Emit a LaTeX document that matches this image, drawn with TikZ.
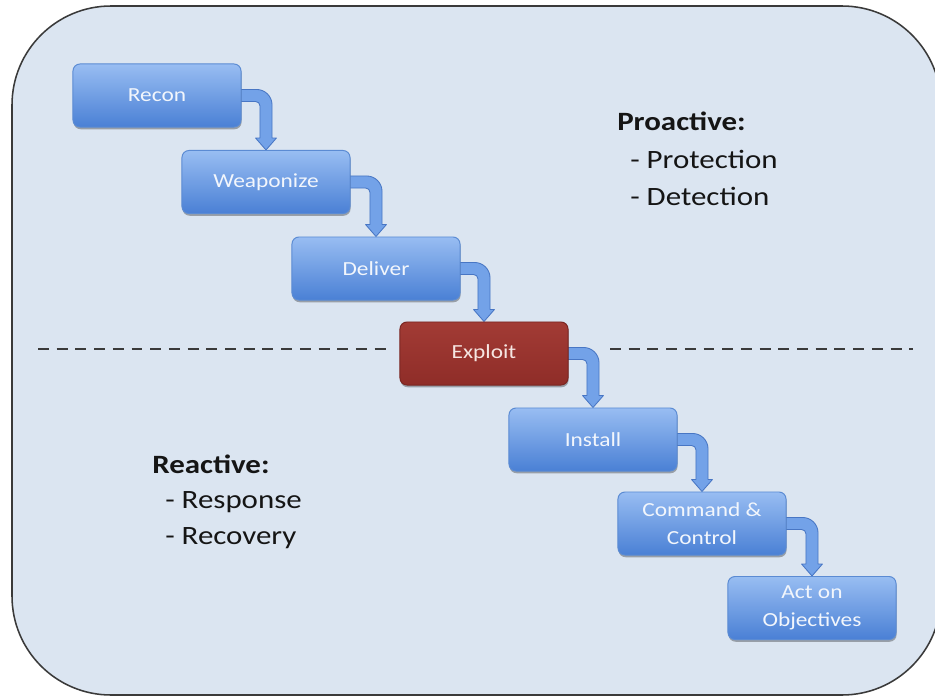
\documentclass[tikz,border=0pt]{standalone}
\usepackage{fontspec}
\setmainfont{Carlito}[FakeStretch=1.17]
\usetikzlibrary{calc,shadows}

\definecolor{panelfill}{HTML}{DBE5F1}
\definecolor{paneledge}{HTML}{3A3A3A}
\definecolor{steptop}{HTML}{98BDF2}
\definecolor{stepbottom}{HTML}{4A80D5}
\definecolor{stepedge}{HTML}{5B8BD3}
\definecolor{steptext}{HTML}{F2F6FC}
\definecolor{hottop}{HTML}{A23B35}
\definecolor{hotbottom}{HTML}{8F2D28}
\definecolor{hotedge}{HTML}{7A2622}
\definecolor{hottext}{HTML}{F6E6E2}
\definecolor{flowfill}{HTML}{73A2E8}
\definecolor{flowedge}{HTML}{4876C4}
\definecolor{ink}{HTML}{151515}

\pgfdeclarelayer{back}
\pgfdeclarelayer{mid}
\pgfsetlayers{back,mid,main}

% bent connector geometry
\newlength\flowhw   \setlength\flowhw{4.3pt}   % half shaft width
\newlength\flowhead \setlength\flowhead{7.4pt} % half head width
\newlength\flowlen  \setlength\flowlen{8.5pt}  % head length
\newlength\flowro   \setlength\flowro{11pt}    % outer bend radius
\newlength\flowri   \setlength\flowri{3pt}     % inner bend radius

% right side of #1, bend down, arrow tip on top of #2
\newcommand\stepflow[2]{%
  \path[flowarrow] let \p1=(#1.east), \p2=(#2.north) in
    (\x1-2pt,\y1+\flowhw) -- (\x2+\flowhw-\flowro,\y1+\flowhw)
    .. controls (\x2+\flowhw-0.45\flowro,\y1+\flowhw) and (\x2+\flowhw,\y1+\flowhw-0.45\flowro)
    .. (\x2+\flowhw,\y1+\flowhw-\flowro)
    -- (\x2+\flowhw,\y2+\flowlen) -- (\x2+\flowhead,\y2+\flowlen)
    -- (\x2,\y2) -- (\x2-\flowhead,\y2+\flowlen) -- (\x2-\flowhw,\y2+\flowlen)
    -- (\x2-\flowhw,\y1-\flowhw-\flowri)
    .. controls (\x2-\flowhw,\y1-\flowhw-0.45\flowri) and (\x2-\flowhw-0.45\flowri,\y1-\flowhw)
    .. (\x2-\flowhw-\flowri,\y1-\flowhw)
    -- (\x1-2pt,\y1-\flowhw) -- cycle;}

\tikzset{
  stepbox/.style={rounded corners=5pt, minimum width=4.2cm, minimum height=1.575cm,
    top color=steptop, bottom color=stepbottom, draw=stepedge, line width=0.7pt,
    text=steptext, align=center, inner sep=2pt,
    font=\fontsize{14.2}{20}\selectfont,
    drop shadow={shadow xshift=0.4pt, shadow yshift=-1.6pt, opacity=0.3, fill=black}},
  hotbox/.style={stepbox, top color=hottop, bottom color=hotbottom, draw=hotedge, text=hottext},
  flowarrow/.style={fill=flowfill, draw=flowedge, line width=0.6pt, line join=round},
  headline/.style={anchor=base west, inner sep=0pt, text=ink,
    font=\fontsize{18.8}{26}\selectfont\bfseries},
  itemline/.style={anchor=base west, inner sep=0pt, text=ink,
    font=\fontsize{18.8}{26}\selectfont},
  divider/.style={draw=paneledge, line width=2.1pt, dash pattern=on 7.8pt off 5.5pt}
}

\begin{document}
\begin{tikzpicture}[x=0.025cm, y=-0.025cm]
  \useasboundingbox (0,0) rectangle (935,696);
  \clip (0,0) rectangle (935,696);

  % panel
  \begin{pgfonlayer}{back}
    \fill[white] (0,0) rectangle (935,696);
    \draw[fill=panelfill, draw=paneledge, line width=1.1pt, rounded corners=2.475cm]
      (12,6) rectangle (941,695);
  \end{pgfonlayer}

  % kill chain steps
  \node[stepbox] (recon)   at (157,95.5)  {Recon};
  \node[stepbox] (weapon)  at (266,182)   {Weaponize};
  \node[stepbox] (deliver) at (376,268.5) {Deliver};
  \node[hotbox]  (exploit) at (484,353.5) {Exploit};
  \node[stepbox] (install) at (593,439.5) {Install};
  \node[stepbox] (cc)      at (702,523.5) {Command \&\\Control};
  \node[stepbox] (act)     at (812,608)   {Act on\\Objectives};

  \begin{pgfonlayer}{mid}
    \stepflow{recon}{weapon}
    \stepflow{weapon}{deliver}
    \stepflow{deliver}{exploit}
    \stepflow{exploit}{install}
    \stepflow{install}{cc}
    \stepflow{cc}{act}
  \end{pgfonlayer}

  % divider between proactive and reactive phases
  \coordinate (divLa) at (38,349);
  \coordinate (divLb) at (386,349);
  \coordinate (divRa) at (610,349);
  \coordinate (divRb) at (913,349);
  \path[divider] (divLa) -- (divLb);
  \path[divider] (divRa) -- (divRb);

  % phase labels
  \node[headline] (pro)  at (617,131) {Proactive:};
  \node[itemline] (pro1) at (630,168) {- Protection};
  \node[itemline] (pro2) at (630,205) {- Detection};

  \node[headline] (re)  at (152,473) {Reactive:};
  \node[itemline] (re1) at (165,508) {- Response};
  \node[itemline] (re2) at (165,544) {- Recovery};
\end{tikzpicture}
\end{document}
